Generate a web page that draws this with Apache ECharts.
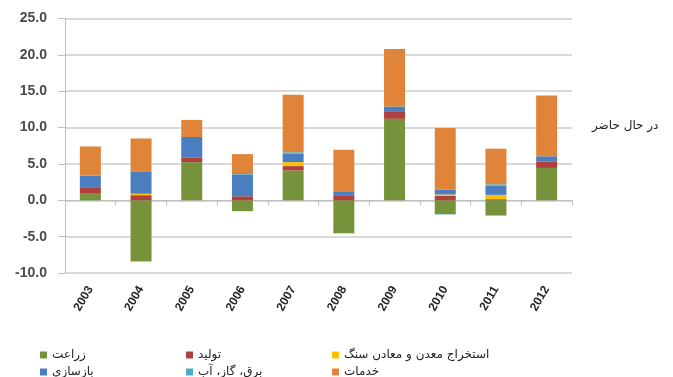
<!DOCTYPE html>
<html>
<head>
<meta charset="utf-8">
<script src="https://cdn.jsdelivr.net/npm/echarts@6/dist/echarts.min.js"></script>
<style>
html,body{margin:0;padding:0;background:#fff;}
#chart{width:673px;height:377px;}
</style>
</head>
<body>
<div id="chart"></div>
<script>
// Years on the category axis
var years = ['2003','2004','2005','2006','2007','2008','2009','2010','2011','2012'];

// Sector contributions (percentage points), one array per sector
var agriculture = [1.0, -8.4, 5.25, -1.5, 4.1, -4.5, 11.2, -1.9, -2.1, 4.45];
var manufacturing = [0.7, 0.7, 0.6, 0.55, 0.6, 0.6, 1.05, 0.6, 0.15, 0.9];
var mining = [0, 0.2, 0, 0, 0.55, 0, 0, 0.2, 0.6, 0];
var construction = [1.7, 3.0, 2.85, 3.0, 1.15, 0.55, 0.65, 0.65, 1.25, 0.7];
var utilities = [0, -0.05, 0, 0.2, 0.2, -0.05, 0, -0.05, 0.2, 0];
var services = [4.0, 4.6, 2.35, 2.6, 7.9, 5.8, 7.9, 8.5, 4.9, 8.35];

// Legend names
var names = ['زراعت', 'تولید', 'استخراج معدن و معادن سنگ', 'بازسازی', 'برق، گاز، آب', 'خدمات'];
var colors = ['#76933C', '#B0403D', '#FFC000', '#4A7EBF', '#4BACC6', '#E0843A'];
var values = [agriculture, manufacturing, mining, construction, utilities, services];

// Y axis range
var yMin = -10, yMax = 25, yStep = 5;

var chart = echarts.init(document.getElementById('chart'));

var series = names.map(function (n, i) {
  return {
    name: n,
    type: 'bar',
    stack: 'total',
    barWidth: 21,
    itemStyle: { color: colors[i] },
    data: values[i]
  };
});

// Legend placed as a two-row, three-column grid
var legendPos = [
  [35, 344], [181, 344], [327, 344],
  [35, 361], [181, 361], [327, 361]
];
var legends = names.map(function (n, i) {
  return {
    data: [n],
    left: legendPos[i][0],
    top: legendPos[i][1],
    itemWidth: 7,
    itemHeight: 7,
    icon: 'rect',
    itemGap: 4,
    selectedMode: false,
    textStyle: { fontFamily: 'DejaVu Sans', fontSize: 12, color: '#222' }
  };
});

chart.setOption({
  animation: false,
  backgroundColor: '#fff',
  grid: { left: 65, right: 101, top: 18.5, bottom: 104 },
  legend: legends,
  xAxis: {
    type: 'category',
    data: years,
    axisLine: { onZero: true, lineStyle: { color: '#BFBFBF', width: 1 } },
    axisTick: { show: true, alignWithLabel: false, length: 5, lineStyle: { color: '#BFBFBF' } },
    axisLabel: {
      rotate: 60,
      margin: 14,
      interval: 0,
      fontFamily: 'Liberation Sans',
      fontWeight: 'bold',
      fontSize: 12,
      color: '#262626'
    }
  },
  yAxis: {
    type: 'value',
    min: yMin,
    max: yMax,
    interval: yStep,
    axisLine: { show: true, lineStyle: { color: '#BFBFBF' } },
    axisTick: { show: true, length: 7, lineStyle: { color: '#BFBFBF' } },
    splitLine: { lineStyle: { color: '#D9D9D9', width: 2 } },
    axisLabel: {
      margin: 18,
      fontFamily: 'Liberation Sans',
      fontWeight: 'bold',
      fontSize: 14,
      color: '#4A4A4A',
      formatter: function (v) { return v.toFixed(1); }
    }
  },
  graphic: [{
    type: 'text',
    left: 592,
    top: 120,
    style: { text: 'در حال حاضر', font: '12px "DejaVu Sans"', fill: '#222' }
  }],
  series: series
});
</script>
</body>
</html>
